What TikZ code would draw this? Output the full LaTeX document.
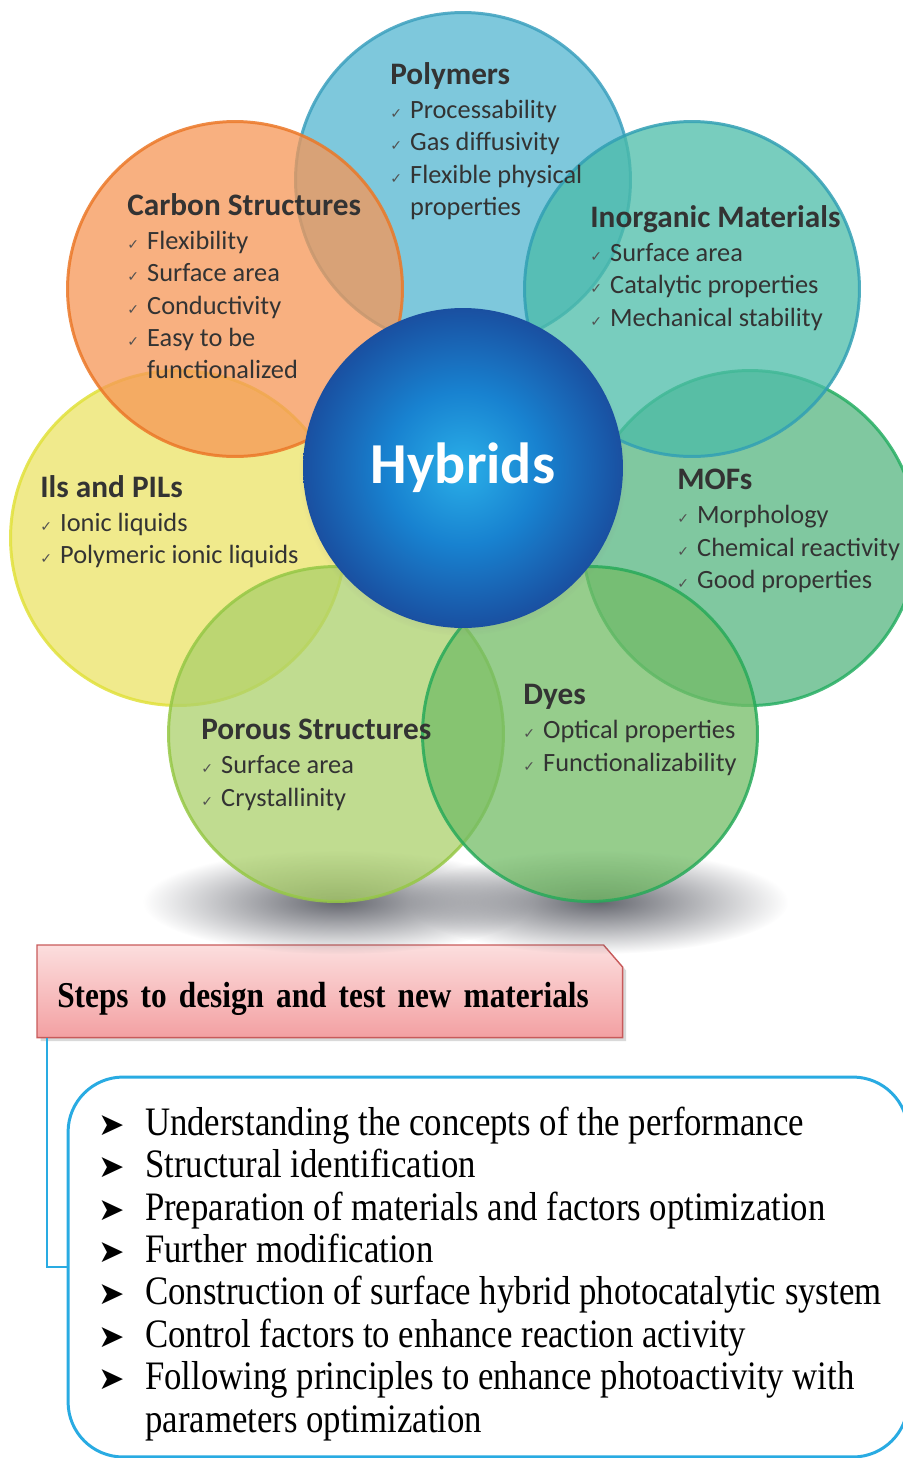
\documentclass[tikz,border=0pt]{standalone}
\usepackage{fontspec}
\setmainfont{Liberation Serif}
\newfontfamily\petalfont{Carlito}
\newfontfamily\symbfont{DejaVu Sans}
\newfontfamily\stepfont[FakeStretch=0.86]{Liberation Serif}
\usetikzlibrary{backgrounds,shadows,fadings}

\definecolor{polyfill}{RGB}{83,182,208}
\definecolor{polyline}{RGB}{60,160,190}
\definecolor{carbfill}{RGB}{246,150,86}
\definecolor{carbline}{RGB}{235,120,40}
\definecolor{inorgfill}{RGB}{75,188,168}
\definecolor{inorgline}{RGB}{50,160,180}
\definecolor{ilsfill}{RGB}{235,227,102}
\definecolor{ilsline}{RGB}{225,225,60}
\definecolor{moffill}{RGB}{86,182,128}
\definecolor{mofline}{RGB}{40,175,100}
\definecolor{porfill}{RGB}{171,208,107}
\definecolor{porline}{RGB}{150,200,70}
\definecolor{dyefill}{RGB}{115,188,102}
\definecolor{dyeline}{RGB}{40,170,90}
\definecolor{textgray}{RGB}{51,51,51}
\definecolor{checkgray}{RGB}{80,80,80}
\definecolor{hybcore}{RGB}{42,175,232}
\definecolor{hybmid}{RGB}{24,130,208}
\definecolor{hybdeep}{RGB}{26,68,150}
\definecolor{hybedge}{RGB}{28,38,108}
\definecolor{shadowcore}{RGB}{100,102,110}
\definecolor{pinktop}{RGB}{252,222,222}
\definecolor{pinkbot}{RGB}{243,160,162}
\definecolor{pinkline}{RGB}{200,90,90}
\definecolor{frameblue}{RGB}{41,171,226}

\pgfdeclareradialshading{hybridshade}{\pgfpoint{0bp}{0bp}}{color(0bp)=(hybcore); color(12bp)=(hybmid); color(28bp)=(hybdeep); color(42bp)=(hybedge); color(50bp)=(hybedge)}
\tikzfading[name=shadowfade, inner color=transparent!0, outer color=transparent!100]

\newcommand\chk{\makebox[11.3pt][l]{\symbfont\fontsize{8}{8}\selectfont\color{checkgray}✓}}
\newcommand\nochk{\hspace*{11.3pt}}
\newcommand\stepbullet{\makebox[26.6pt][l]{\symbfont\fontsize{18}{18}\selectfont ➤}}
\newcommand\petalhead[1]{{\fontsize{17.8}{18.4}\selectfont\bfseries #1}}

\tikzset{
  petal/.style={circle, inner sep=0pt, minimum size=6.7cm, line width=1.7pt,
    fill opacity=0.75, draw opacity=0.85},
  petaltext/.style={anchor=north west, inner sep=0pt, align=left, text=textgray,
    font=\petalfont\fontsize{15}{18.4}\selectfont},
  hybrid/.style={circle, inner sep=0pt, minimum size=6.4cm, shade, shading=hybridshade,
    text=white, font=\petalfont\bfseries\fontsize{33}{33}\selectfont},
  steptext/.style={anchor=base west, inner sep=0pt, font=\stepfont\fontsize{23}{24}\selectfont},
  stepsbox/.style={anchor=north west, minimum width=11.7cm, inner ysep=0pt,
    text height=1.24cm, text depth=0.6cm,
    text width=10.9cm, inner xsep=0.4cm, align=left,
    font=\stepfont\bfseries\fontsize{20.7}{22}\selectfont},
  listbox/.style={draw=frameblue, line width=1.7pt, rounded corners=1.1cm,
    minimum width=16.8cm, minimum height=7.6cm},
  linkline/.style={draw=frameblue, line width=1.5pt}
}

\begin{document}
\begin{tikzpicture}[x=0.02cm, y=-0.02cm]
  \useasboundingbox (0,0) rectangle (903,1458);

  % shadow under the lower petals
  \fill[shadowcore, path fading=shadowfade] (338,902) ellipse (195 and 52);
  \fill[shadowcore, path fading=shadowfade] (598,902) ellipse (190 and 52);

  % petals
  \node[petal, fill=ilsfill, draw=ilsline] (ils) at (178,538) {};
  \node[petal, fill=moffill, draw=mofline] (mof) at (750,538) {};
  \node[petal, fill=polyfill, draw=polyline] (poly) at (463,180) {};
  \node[petal, fill=carbfill, draw=carbline] (carb) at (235,289) {};
  \node[petal, fill=inorgfill, draw=inorgline] (inorg) at (692,289) {};
  \node[petal, fill=porfill, draw=porline] (por) at (336,734) {};
  \node[petal, fill=dyefill, draw=dyeline] (dye) at (590,734) {};

  \node[hybrid, circular drop shadow={shadow xshift=0pt, shadow yshift=-2pt, shadow scale=1.025, opacity=0.3}] (hyb) at (463,468) {Hybrids};

  % petal texts
  \node[petaltext] (polytext) at (390,62) {\petalhead{Polymers}\\[1pt]
    \chk Processability\\ \chk Gas diffusivity\\ \chk Flexible physical\\ \nochk properties};
  \node[petaltext] (carbtext) at (127,193) {\petalhead{Carbon Structures}\\[1pt]
    \chk Flexibility\\ \chk Surface area\\ \chk Conductivity\\ \chk Easy to be\\ \nochk functionalized};
  \node[petaltext] (inorgtext) at (590,205) {\petalhead{Inorganic Materials}\\[1pt]
    \chk Surface area\\ \chk Catalytic properties\\ \chk Mechanical stability};
  \node[petaltext] (ilstext) at (40,475) {\petalhead{Ils and PILs}\\[1pt]
    \chk Ionic liquids\\ \chk Polymeric ionic liquids};
  \node[petaltext] (moftext) at (677,469) {\petalhead{MOFs}\\[1pt]
    \chk Morphology\\ \chk Chemical reactivity\\ \chk Good properties};
  \node[petaltext] (portext) at (201,719) {\petalhead{Porous Structures}\\[1pt]
    \chk Surface area\\ \chk Crystallinity};
  \node[petaltext] (dyetext) at (523,684) {\petalhead{Dyes}\\[1pt]
    \chk Optical properties\\ \chk Functionalizability};

  % steps
  \node[stepsbox] (steps) at (37,945) {Steps to design and test new materials};
  \begin{scope}[on background layer]
    \path[top color=pinktop, bottom color=pinkbot, draw=pinkline, line width=0.8pt,
      drop shadow={shadow xshift=2pt, shadow yshift=-2pt, opacity=0.3}]
      (steps.north west) -- ([xshift=-0.38cm]steps.north east) -- ([yshift=-0.44cm]steps.north east)
      -- (steps.south east) -- (steps.south west) -- cycle;
  \end{scope}

  \node[listbox] (stepframe) at (488,1267) {};
  \draw[linkline] ([xshift=0.2cm]steps.south west) |- (stepframe.west);

  \node[steptext] (step1) at (98,1135) {\stepbullet Understanding the concepts of the performance};
  \node[steptext] (step2) at (98,1177) {\stepbullet Structural identification};
  \node[steptext] (step3) at (98,1220) {\stepbullet Preparation of materials and factors optimization};
  \node[steptext] (step4) at (98,1262) {\stepbullet Further modification};
  \node[steptext] (step5) at (98,1304) {\stepbullet Construction of surface hybrid photocatalytic system};
  \node[steptext] (step6) at (98,1347) {\stepbullet Control factors to enhance reaction activity};
  \node[steptext] (step7) at (98,1389) {\stepbullet Following principles to enhance photoactivity with};
  \node[steptext] (step7b) at (145,1432) {parameters optimization};
\end{tikzpicture}
\end{document}
